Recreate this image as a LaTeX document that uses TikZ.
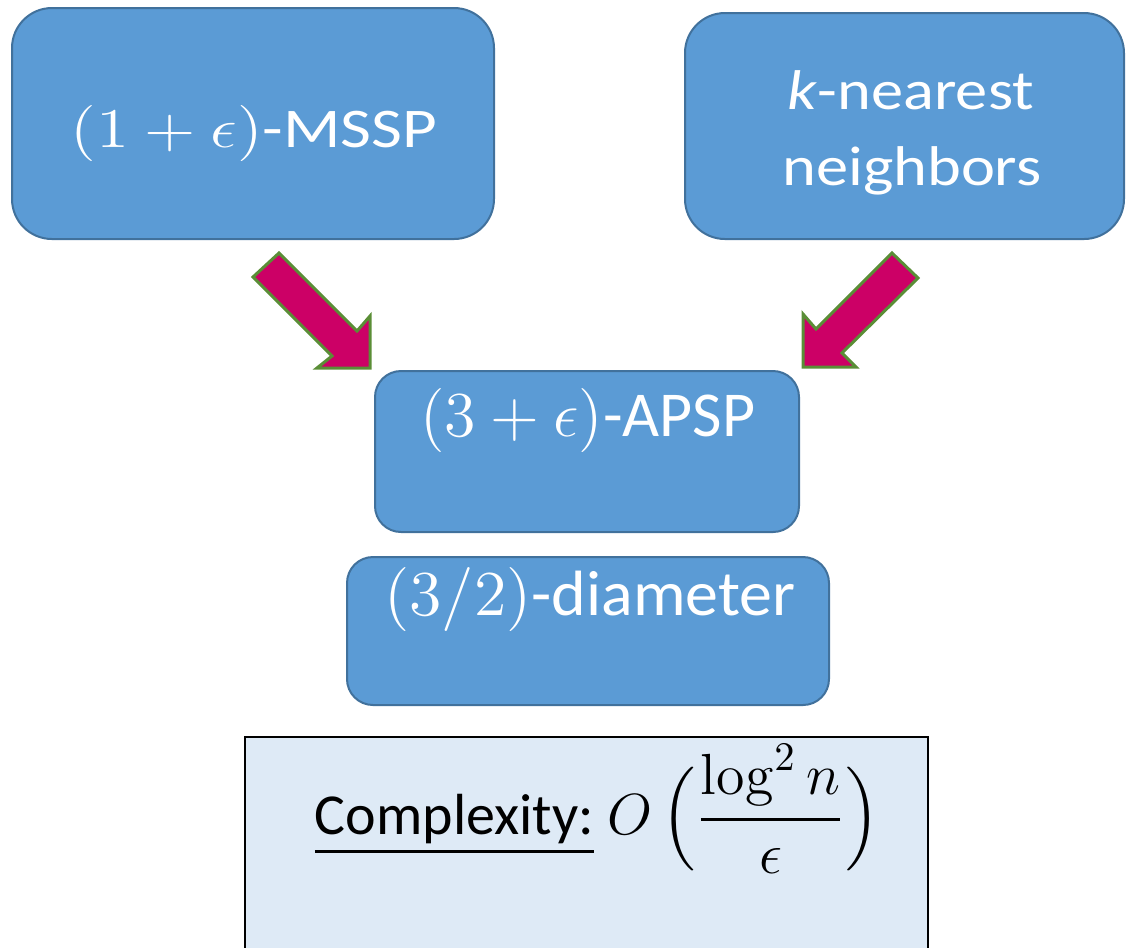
\RequirePackage{fix-cm}
\documentclass[tikz,border=0pt]{standalone}
\usepackage[no-math]{fontspec}
\setmainfont{Carlito}
\usepackage{amsmath}
\usepackage{graphicx}

\definecolor{boxfill}{HTML}{5B9BD5}
\definecolor{boxline}{HTML}{41719C}
\definecolor{arrowfill}{HTML}{CC0066}
\definecolor{arrowline}{HTML}{5A8E36}
\definecolor{notefill}{HTML}{DEEAF6}

\tikzset{
  bluebox/.style={draw=boxline, fill=boxfill, line width=0.5pt},
  bigcorner/.style={rounded corners=10pt},
  smallcorner/.style={rounded corners=6.5pt},
  notebox/.style={draw=black, fill=notefill, line width=0.5pt},
  blockarrow/.style={draw=arrowline, fill=arrowfill, line width=0.75pt, line join=miter},
  boxtext/.style={text=white, inner sep=0pt, anchor=base},
  notetext/.style={text=black, inner sep=0pt, anchor=base west},
}
\newcommand{\widetext}[2]{\scalebox{#1}[1]{#2}}

\begin{document}
\begin{tikzpicture}[x=0.25pt, y=-0.25pt]
  \useasboundingbox (0,0) rectangle (1126,947);

  % boxes
  \draw[bluebox, bigcorner] (12,8) rectangle (494,239);
  \draw[bluebox, bigcorner] (685,13) rectangle (1124,239);
  \draw[bluebox, smallcorner] (375,371) rectangle (799,532);
  \draw[bluebox, smallcorner] (347,557) rectangle (829,705);
  \draw[notebox] (245,737) rectangle (928,960);

  % labels
  \node[boxtext, font=\fontsize{14}{17}\selectfont] (msspt) at (254,147)
    {\widetext{1.2}{$(1+\epsilon)$-MSSP}};
  \node[boxtext, font=\fontsize{14}{19}\selectfont] (knnt1) at (911,109)
    {\widetext{1.15}{\textit{k}-nearest}};
  \node[boxtext, font=\fontsize{14}{19}\selectfont] (knnt2) at (912,185)
    {\widetext{1.15}{neighbors}};
  \node[boxtext, font=\fontsize{16}{19}\selectfont] (apspt) at (588,436)
    {$(3+\epsilon)$-APSP};
  \node[boxtext, font=\fontsize{16}{19}\selectfont] (diamt) at (590,615)
    {\widetext{1.03}{$(3/2)$-diameter}};
  \node[notetext, font=\fontsize{14.5}{17}\selectfont] (cplx) at (314,834)
    {\underline{Complexity:} $O\,\Big(\dfrac{\log^2 n}{\epsilon}\Big)$};

  % block arrows into the APSP box
  \coordinate (ltip) at (370,368);
  \draw[blockarrow] (253,277) -- (279,253) -- (357,331) -- (370,316)
    -- (ltip) -- (317,368) -- (332,356) -- cycle;
  \coordinate (rtip) at (803,367);
  \draw[blockarrow] (918,278) -- (892,253) -- (816,329) -- (803,314)
    -- (rtip) -- (856,367) -- (842,353) -- cycle;
\end{tikzpicture}
\end{document}
